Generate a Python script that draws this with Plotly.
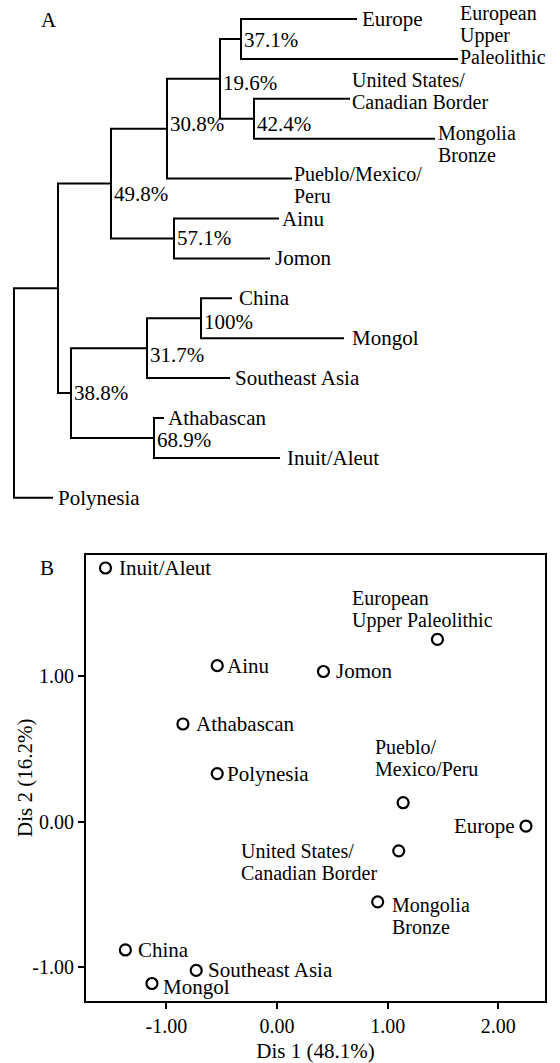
import plotly.graph_objects as go

# ---------------- Data ----------------
# Panel A: dendrogram (leaves top to bottom)
leaf_names = ["Europe", "European Upper Paleolithic", "United States/Canadian Border",
              "Mongolia Bronze", "Pueblo/Mexico/Peru", "Ainu", "Jomon", "China",
              "Mongol", "Southeast Asia", "Athabascan", "Inuit/Aleut", "Polynesia"]
leaf_label_lines = [["Europe"], ["European", "Upper", "Paleolithic"],
                    ["United States/", "Canadian Border"], ["Mongolia", "Bronze"],
                    ["Pueblo/Mexico/", "Peru"], ["Ainu"], ["Jomon"], ["China"],
                    ["Mongol"], ["Southeast Asia"], ["Athabascan"], ["Inuit/Aleut"],
                    ["Polynesia"]]
# distance of each leaf tip from the root
leaf_dist = [3.43, 4.44, 3.36, 4.21, 2.78, 2.65, 2.56, 2.18, 3.30, 2.16, 1.50, 2.66, 0.39]
# merges: ids 0-12 are leaves, id 13+k is merge k
merge_a = [0, 2, 13, 15, 5, 16, 7, 19, 10, 20, 18, 23]
merge_b = [1, 3, 14, 4, 6, 17, 8, 9, 11, 21, 22, 12]
merge_dist = [2.27, 2.40, 2.06, 1.53, 1.60, 0.97, 1.87, 1.33, 1.40, 0.57, 0.44, 0.00]
merge_support = ["37.1%", "42.4%", "19.6%", "30.8%", "57.1%", "49.8%",
                 "100%", "31.7%", "68.9%", "38.8%", "", ""]

# Panel B: discriminant scores
pop_names = ["Inuit/Aleut", "Ainu", "Athabascan", "Polynesia", "Jomon",
             "European Upper Paleolithic", "Pueblo/Mexico/Peru", "Europe",
             "United States/Canadian Border", "Mongolia Bronze", "China",
             "Southeast Asia", "Mongol"]
pop_label_lines = [["Inuit/Aleut"], ["Ainu"], ["Athabascan"], ["Polynesia"], ["Jomon"],
                   ["European", "Upper Paleolithic"], ["Pueblo/", "Mexico/Peru"],
                   ["Europe"], ["United States/", "Canadian Border"],
                   ["Mongolia", "Bronze"], ["China"], ["Southeast Asia"], ["Mongol"]]
dis1 = [-1.55, -0.54, -0.85, -0.54, 0.42, 1.45, 1.14, 2.25, 1.10, 0.91, -1.37, -0.73, -1.13]
dis2 = [1.74, 1.07, 0.67, 0.33, 1.03, 1.25, 0.13, -0.03, -0.20, -0.55, -0.88, -1.02, -1.11]
x_ticks = [-1.0, 0.0, 1.0, 2.0]
x_tick_labels = ["-1.00", "0.00", "1.00", "2.00"]
y_ticks = [-1.0, 0.0, 1.0]
y_tick_labels = ["-1.00", "0.00", "1.00"]
x_title = "Dis 1 (48.1%)"
y_title = "Dis 2 (16.2%)"

# ---------------- Styles ----------------
W, H = 560, 1063
FONT = "Liberation Serif, Times New Roman, serif"
FS = 21            # single-line labels
FS_MULTI = 20      # glyph size inside multi-line labels
PITCH_BASE = 17.1  # base size -> line pitch 1.3 * 17.1 = 22.2 px
font = dict(family=FONT, size=FS, color="black")


def label_html(lines):
    """Multi-line label: glyphs at FS_MULTI, line pitch set by the base font size."""
    if len(lines) == 1:
        return lines[0]
    return "<br>".join('<span style="font-size:%dpx">%s</span>' % (FS_MULTI, s)
                       for s in lines)


def label_font(lines):
    return dict(font) if len(lines) == 1 else dict(font, size=PITCH_BASE)


# per-leaf label offsets (px)
leaf_xshift = [3, 0, 0, 1, 0, 1, 3, 5, 6, 3, 2, 5, 3]
leaf_yshift = [0, 24.1, 8.2, -5.1, -6.1, 0, 0, 0, 0, 0, 0, 0, 0]
support_yshift = [-1, -5, -4, 5, 0, -10, -4, -7, -2, 0, 0, 0]

# per-point label placement in panel B: (xanchor, xshift, yshift)
pt_label_style = [("left", 12, 0), ("left", 8, 0), ("left", 11, 0),
                  ("left", 8, 0), ("left", 11, 0),
                  ("left", -87, 29.8), ("left", -30, 44.6),
                  ("right", -9, 0), ("left", -160, -11.3),
                  ("left", 12, -14.2), ("left", 11, 0), ("left", 10, 0),
                  ("left", 9, -3)]

fig = go.Figure()

# ---------------- Panel A: dendrogram ----------------
n = len(leaf_names)
node_x = list(leaf_dist)
node_y = list(range(n))
xs, ys = [], []
for a, b, d in zip(merge_a, merge_b, merge_dist):
    ya, yb = node_y[a], node_y[b]
    xs += [node_x[a], d, d, node_x[b], None]
    ys += [ya, ya, yb, yb, None]
    node_x.append(d)
    node_y.append((ya + yb) / 2)

fig.add_trace(go.Scatter(x=xs, y=ys, mode="lines", xaxis="x", yaxis="y",
                         line=dict(color="black", width=2), hoverinfo="skip",
                         showlegend=False))

annotations = []
for i in range(n):
    lines = leaf_label_lines[i]
    annotations.append(dict(x=leaf_dist[i], y=i, xref="x", yref="y",
                            text=label_html(lines), align="left",
                            showarrow=False, xanchor="left", yanchor="middle",
                            xshift=leaf_xshift[i], yshift=leaf_yshift[i],
                            font=label_font(lines)))
for k, lab in enumerate(merge_support):
    if lab:
        annotations.append(dict(x=merge_dist[k], y=node_y[n + k], xref="x", yref="y",
                                text=lab, showarrow=False, xanchor="left",
                                yanchor="middle", xshift=1, yshift=support_yshift[k],
                                font=font))

# ---------------- Panel B: scatter ----------------
fig.add_trace(go.Scatter(x=dis1, y=dis2, mode="markers", xaxis="x2", yaxis="y2",
                         text=pop_names, hoverinfo="text", showlegend=False,
                         marker=dict(symbol="circle-open", size=11, color="black",
                                     line=dict(width=2.2, color="black"))))
for i in range(len(pop_names)):
    xa, xsh, ysh = pt_label_style[i]
    lines = pop_label_lines[i]
    annotations.append(dict(x=dis1[i], y=dis2[i], xref="x2", yref="y2",
                            text=label_html(lines), align="left",
                            showarrow=False, xanchor=xa, yanchor="middle",
                            xshift=xsh, yshift=ysh, font=label_font(lines)))

# panel letters
annotations.append(dict(x=49 / W, y=1 - 20 / H, xref="paper", yref="paper", text="A",
                        showarrow=False, xanchor="center", yanchor="middle", font=font))
annotations.append(dict(x=47 / W, y=1 - 568 / H, xref="paper", yref="paper", text="B",
                        showarrow=False, xanchor="center", yanchor="middle", font=font))
# y axis title of panel B
annotations.append(dict(x=25 / W, y=0.5, xref="paper", yref="y2 domain", text=y_title,
                        textangle=-90, showarrow=False, xanchor="center",
                        yanchor="middle", font=font))

# ---------------- Layout ----------------
px0 = 14  # pixel of root in panel A
unit = 100.0
tickfont = dict(family=FONT, size=20, color="black")
fig.update_layout(
    width=W, height=H, margin=dict(l=0, r=0, t=0, b=0),
    paper_bgcolor="white", plot_bgcolor="white",
    font=font, showlegend=False,
    xaxis=dict(domain=[0, 1], range=[-px0 / unit, (W - px0) / unit], visible=False,
               fixedrange=True),
    yaxis=dict(domain=[1 - 520 / H, 1], range=[(520 - 19) / 39.9, -19 / 39.9],
               visible=False, fixedrange=True),
    xaxis2=dict(domain=[86 / W, 545 / W], range=[-1.726, 2.422], anchor="y2",
                tickvals=x_ticks, ticktext=x_tick_labels, ticks="outside", ticklen=6,
                tickwidth=1.5, tickcolor="black", showline=True, mirror=True,
                linewidth=2.2, linecolor="black", showgrid=False, zeroline=False,
                tickfont=tickfont,
                title=dict(text=x_title, standoff=10, font=font), automargin=False),
    yaxis2=dict(domain=[1 - 1001 / H, 1 - 555 / H], range=[-1.230, 1.829], anchor="x2",
                tickvals=y_ticks, ticktext=y_tick_labels, ticks="outside", ticklen=6,
                tickwidth=1.5, tickcolor="black", showline=True, mirror=True,
                linewidth=2.2, linecolor="black", showgrid=False, zeroline=False,
                tickfont=tickfont, automargin=False),
    annotations=annotations,
)

fig.write_html("out.html", config={"displayModeBar": False},
               post_script="document.body.style.margin='0';document.body.style.overflow='hidden';")
